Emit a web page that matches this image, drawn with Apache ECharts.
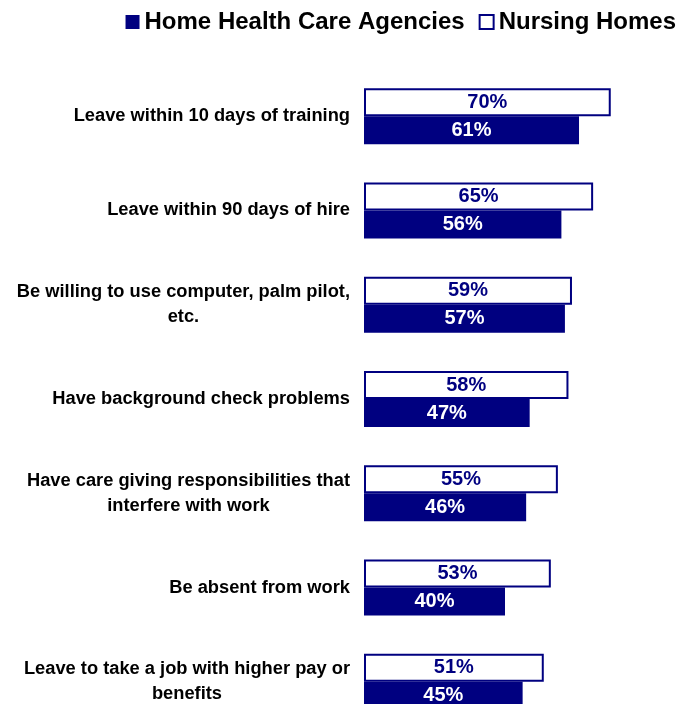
<!DOCTYPE html>
<html>
<head>
<meta charset="utf-8">
<script src="https://cdn.jsdelivr.net/npm/echarts@6/dist/echarts.min.js"></script>
<style>
  html, body { margin: 0; padding: 0; background: #fff; }
  #chart { width: 693px; height: 704px; }
</style>
</head>
<body>
<div id="chart"></div>
<script>
var categories = [
    'Leave within 10 days of training',
    'Leave within 90 days of hire',
    'Be willing to use computer, palm pilot,\netc.',
    'Have background check problems',
    'Have care giving responsibilities that\ninterfere with work',
    'Be absent from work',
    'Leave to take a job with higher pay or\nbenefits'
];
var homeHealth = [61, 56, 57, 47, 46, 40, 45];
var nursingHomes = [70, 65, 59, 58, 55, 53, 51];

var navy = '#000080';
var font = 'Liberation Sans, Arial, sans-serif';
var option = {
    backgroundColor: '#fff',
    animation: false,
    legend: {
        data: ['Home Health Care Agencies', 'Nursing Homes'],
        icon: 'rect',
        right: 12,
        top: 5,
        itemWidth: 14,
        itemHeight: 14,
        itemGap: 14,
        textStyle: {
            fontFamily: font,
            fontWeight: 'bold',
            fontSize: 24,
            color: '#000'
        }
    },
    grid: {
        left: 364,
        top: 69,
        width: 282,
        height: 660,
        outerBoundsMode: 'none',
        containLabel: false
    },
    xAxis: {
        type: 'value',
        min: 0,
        max: 80,
        show: false
    },
    yAxis: {
        type: 'category',
        data: categories,
        inverse: true,
        axisLine: { show: false },
        axisTick: { show: false },
        axisLabel: {
            margin: 14,
            align: 'right',
            // each line centred inside the right-aligned block
            formatter: function (v) {
                return v.split('\n').map(function (l) { return '{c|' + l + '}'; }).join('\n');
            },
            rich: {
                c: {
                    align: 'center',
                    fontFamily: font,
                    fontWeight: 'bold',
                    fontSize: 18.3,
                    lineHeight: 25,
                    color: '#000'
                }
            }
        }
    },
    series: [{
        name: 'Nursing Homes',
        type: 'bar',
        data: nursingHomes,
        barWidth: 28,
        barGap: '0%',
        itemStyle: { color: '#fff', borderColor: navy, borderWidth: 2 },
        label: {
            show: true,
            position: 'inside',
            formatter: '{c}%',
            color: navy,
            fontFamily: font,
            fontWeight: 'bold',
            fontSize: 20
        }
    }, {
        name: 'Home Health Care Agencies',
        type: 'bar',
        data: homeHealth,
        barWidth: 28,
        barGap: '0%',
        itemStyle: { color: navy },
        label: {
            show: true,
            position: 'inside',
            formatter: '{c}%',
            color: '#fff',
            fontFamily: font,
            fontWeight: 'bold',
            fontSize: 20
        }
    }]
};
var myChart = echarts.init(document.getElementById('chart'));
myChart.setOption(option);
</script>
</body>
</html>
